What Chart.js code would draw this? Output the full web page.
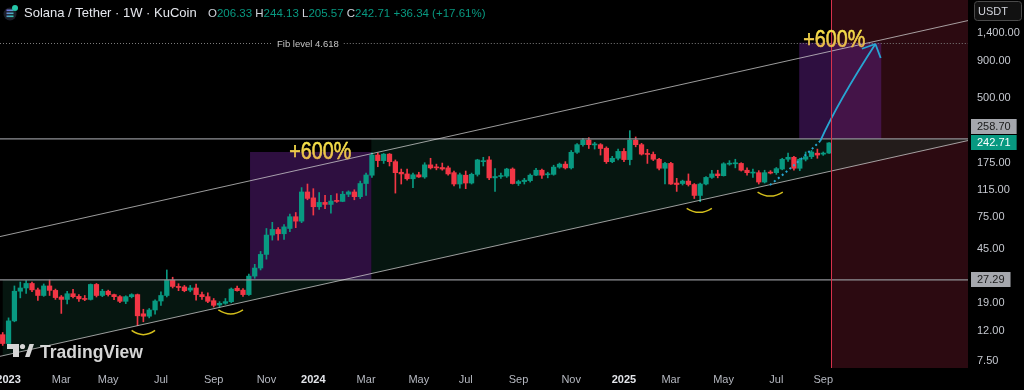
<!DOCTYPE html>
<html>
<head>
<meta charset="utf-8">
<script src="https://cdn.jsdelivr.net/npm/chart.js@4.4.1/dist/chart.umd.min.js"></script>
<style>
  html, body { margin: 0; padding: 0; background: #000; }
  #wrap { width: 1024px; height: 390px; }
</style>
</head>
<body>
<div id="wrap"><canvas id="chart" width="1024" height="390"></canvas></div>
<script>
// weekly SOL/USDT candles, week of 26 Dec 2022 .. week of 8 Sep 2025
const opens = [
  11.4, 9.9, 14.2, 22.8, 24.0, 25.8, 23.3, 21.3, 24.8, 23.1,
  20.8, 20.0, 21.9, 21.0, 20.3, 20.0, 25.4, 21.3, 22.8, 21.6,
  20.9, 19.4, 20.9, 21.6, 15.9, 15.3, 16.9, 19.5, 21.3, 27.2,
  24.6, 24.4, 23.2, 24.0, 21.6, 20.9, 19.6, 18.3, 18.8, 19.3,
  23.9, 23.2, 21.6, 29.0, 33.0, 41.0, 55.8, 61.0, 57.0, 62.0,
  74.8, 69.7, 111, 101, 87.7, 94, 91, 96.5, 95.5, 107,
  111, 103, 127, 145, 200, 183, 203, 180, 152, 148,
  137, 146, 141, 171, 165, 164, 163, 151, 126, 145,
  128, 147, 180, 185, 139, 142, 143, 160, 127, 131,
  133, 145, 157, 146, 147, 165, 173, 163, 209, 236,
  254, 235, 236, 223, 180, 190, 212, 186, 254, 236,
  205, 202, 187, 162, 175, 128, 127, 132, 125, 105,
  126, 140, 148, 144, 173, 174, 175, 157, 150, 151,
  130, 152, 151, 160, 187, 193, 162, 187, 195, 206,
  203, 206.33
];
const highs = [
  11.8, 14.9, 24.8, 26.4, 27.0, 26.4, 24.0, 25.6, 27.3, 23.6,
  21.3, 22.8, 23.5, 21.6, 21.3, 25.6, 25.8, 23.5, 23.2, 21.8,
  21.3, 21.2, 21.9, 21.8, 17.1, 17.3, 19.9, 22.6, 32.0, 28.5,
  25.7, 25.0, 25.0, 25.5, 22.5, 22.2, 20.3, 19.3, 20.3, 24.0,
  24.7, 23.8, 30.0, 35.0, 43.0, 62.0, 68.4, 63.0, 66.0, 78.0,
  80.0, 119, 126, 117, 110, 105, 105, 108, 112, 113,
  115, 132, 150, 207, 207, 205, 205, 185, 160, 160,
  150, 152, 177, 190, 173, 176, 168, 155, 150, 155,
  150, 187, 193, 195, 161, 150, 162, 163, 134, 138,
  148, 162, 160, 152, 170, 176, 180, 215, 240, 261,
  264, 245, 240, 228, 196, 220, 222, 295, 267, 241,
  219, 210, 190, 178, 178, 138, 134, 148, 127, 128,
  142, 157, 157, 177, 183, 187, 177, 163, 160, 156,
  157, 156, 164, 190, 206, 196, 190, 210, 215, 220,
  210, 244.13
];
const lows = [
  9.6, 9.7, 14.0, 20.5, 22.0, 22.6, 19.7, 21.0, 21.3, 20.0,
  16.0, 18.6, 20.5, 19.4, 19.6, 19.8, 20.8, 20.9, 21.1, 19.9,
  19.0, 18.7, 20.5, 13.2, 14.0, 14.9, 15.8, 18.2, 20.8, 24.0,
  23.0, 22.6, 22.6, 19.8, 20.0, 19.0, 17.7, 17.7, 18.5, 19.0,
  22.8, 21.0, 21.3, 28.0, 32.0, 38.0, 51.5, 51.5, 52.0, 59.0,
  62.8, 68.0, 98.0, 76.8, 84.0, 85.0, 79.0, 94.0, 95.0, 103,
  98, 100, 105, 140, 166, 175, 168, 109, 126, 134,
  119, 140, 138, 160, 158, 157, 145, 122, 118, 117,
  126, 143, 168, 135, 112, 138, 140, 126, 123, 126,
  130, 144, 138, 139, 145, 162, 160, 160, 205, 230,
  222, 220, 200, 175, 177, 185, 180, 171, 228, 200,
  175, 183, 158, 126, 125, 112, 124, 122, 100, 95,
  124, 138, 139, 143, 170, 163, 155, 145, 140, 126,
  128, 148, 147, 158, 181, 157, 156, 182, 189, 190,
  199, 205.57
];
const closes = [
  9.9, 14.2, 22.8, 24.0, 25.8, 23.3, 21.3, 24.8, 23.1, 20.6,
  20.0, 21.9, 20.9, 20.2, 20.0, 25.4, 21.3, 22.8, 21.6, 20.9,
  19.4, 20.9, 21.6, 15.4, 15.3, 16.9, 19.5, 21.3, 27.2, 24.6,
  24.2, 23.0, 24.0, 21.6, 20.9, 19.4, 18.2, 18.8, 19.3, 23.6,
  23.0, 21.6, 29.0, 33.0, 41.0, 55.8, 61.1, 57.0, 63.6, 74.8,
  69.7, 111, 100.2, 87.7, 94, 91, 96, 95.5, 107, 111,
  103, 127, 145.5, 200, 183, 203, 180, 151, 148, 137,
  146, 141, 171, 163, 163, 160, 148, 126, 146, 128,
  147, 185, 182, 139, 142, 144, 160, 127, 131, 134,
  145, 157, 145, 148, 165, 173, 163, 209, 236, 254,
  236, 238, 222, 180, 190, 212, 186, 254, 236, 203,
  202, 187, 162, 175, 126, 125, 132, 125, 105, 126,
  140, 148, 144, 174, 175, 176, 157, 151, 152, 130,
  151, 150, 161, 187, 193, 162, 187, 195, 210, 200,
  206.37, 242.71
];

// axis ticks (week index of first bar in the month)
const xTickIdx = [1, 10, 18, 27, 36, 45, 53, 62, 71, 79, 88, 97, 106, 114, 123, 132, 140];
const xTickLabels = ['2023', 'Mar', 'May', 'Jul', 'Sep', 'Nov', '2024', 'Mar', 'May', 'Jul', 'Sep', 'Nov', '2025', 'Mar', 'May', 'Jul', 'Sep'];
const yTicks = [7.5, 12, 19, 45, 75, 115, 175, 500, 900, 1400];

// drawings, in [week index, price]
const levels = [27.29, 258.70];
const fibLevel = 1199;
const upperChannel = [[-0.46, 54.5], [164.7, 1708]];
const lowerChannel = [[-0.46, 8.07], [164.7, 252]];
const greenZoneTop = [[0, 27.29], [62.9, 27.29], [62.9, 258.70], [164.7, 258.70]];
const boxes = [[42.2, 62.9, 27.29, 210], [135.9, 149.9, 258.70, 1199]];
const pctLabels = [[48.9, 187.7], [136.6, 1128]];
const redZoneStart = 141.35;
// smile arcs: [start idx, end idx, end price, bottom price]
const arcs = [[22.0, 26.0, 12.19, 11.4], [36.8, 41.0, 16.9, 15.85], [116.7, 121.0, 85.5, 80.2], [128.8, 133.1, 110.9, 104]];
const projDots = [[130.9, 124], [135.5, 177], [139.5, 251]];
const projArrow = [[139.5, 251], [143.4, 507], [148.9, 1175]];
const arrowArms = [[146.6, 1090], [149.8, 940]];

const UP = '#089981', DOWN = '#f23645';
const FONT = '"Liberation Sans", Arial, sans-serif';

const idx = opens.map((_, i) => i);
const colors = idx.map(i => closes[i] >= opens[i] ? UP : DOWN);
const wickData = idx.map(i => ({ x: i, y: [lows[i], highs[i]] }));
const bodyData = idx.map(i => ({ x: i, y: [Math.min(opens[i], closes[i]), Math.max(opens[i], closes[i])] }));
const pts = arr => arr.map(([x, y]) => ({ x, y }));

function quad(ctx, p0, p1, p2) {
  const cx = 2 * p1[0] - (p0[0] + p2[0]) / 2;
  const cy = 2 * p1[1] - (p0[1] + p2[1]) / 2;
  ctx.beginPath();
  ctx.moveTo(p0[0], p0[1]);
  ctx.quadraticCurveTo(cx, cy, p2[0], p2[1]);
  ctx.stroke();
}

const overlay = {
  id: 'overlay',
  beforeDatasetsDraw(chart) {
    const { ctx, chartArea: a, scales: { x, y } } = chart;
    const P = ([i, p]) => [x.getPixelForValue(i), y.getPixelForValue(p)];
    ctx.save();
    ctx.beginPath();
    ctx.rect(a.left, a.top, a.width, a.height);
    ctx.clip();

    const rx = x.getPixelForValue(redZoneStart);
    ctx.fillStyle = '#2c0a11';
    ctx.fillRect(rx, a.top, a.right - rx, a.height);

    const l0 = P(lowerChannel[0]), l1 = P(lowerChannel[1]);
    const lowAt = X => l0[1] + (l1[1] - l0[1]) * (X - l0[0]) / (l1[0] - l0[0]);
    ctx.beginPath();
    greenZoneTop.forEach((pt, k) => {
      const [X, Y] = P(pt);
      if (k) ctx.lineTo(X, Y); else ctx.moveTo(X, Y);
    });
    const xe = P(greenZoneTop[greenZoneTop.length - 1])[0];
    const xs = P(greenZoneTop[0])[0];
    ctx.lineTo(xe, lowAt(xe));
    ctx.lineTo(xs, lowAt(xs));
    ctx.closePath();
    ctx.fillStyle = 'rgba(18,64,48,0.34)';
    ctx.fill();

    ctx.fillStyle = 'rgba(92,30,128,0.5)';
    boxes.forEach(([i0, i1, p0, p1]) => {
      const [X0, Y0] = P([i0, p1]);
      const [X1, Y1] = P([i1, p0]);
      ctx.fillRect(X0, Y0, X1 - X0, Y1 - Y0);
    });
    ctx.restore();
  },
  afterDatasetsDraw(chart) {
    const { ctx, chartArea: a, scales: { x, y } } = chart;
    const P = ([i, p]) => [x.getPixelForValue(i), y.getPixelForValue(p)];
    ctx.save();
    ctx.beginPath();
    ctx.rect(a.left, a.top, a.width, a.height);
    ctx.clip();

    // fib level, dotted with a label gap
    const fy = Math.round(y.getPixelForValue(fibLevel)) + 0.5;
    ctx.font = '9.5px ' + FONT;
    const label = 'Fib level 4.618';
    const lw = ctx.measureText(label).width;
    const lx = 277;
    ctx.strokeStyle = '#7c7c7c';
    ctx.lineWidth = 1;
    ctx.setLineDash([1, 2]);
    ctx.beginPath();
    ctx.moveTo(a.left, fy); ctx.lineTo(lx - 4, fy);
    ctx.moveTo(lx + lw + 5, fy); ctx.lineTo(a.right, fy);
    ctx.stroke();
    ctx.setLineDash([]);
    ctx.fillStyle = '#c4c4c4';
    ctx.textBaseline = 'middle';
    ctx.fillText(label, lx, fy + 0.5);

    // yellow smiles under the lows
    ctx.strokeStyle = '#d4bf1c';
    ctx.lineWidth = 1.5;
    arcs.forEach(([i0, i1, pe, pb]) => {
      const [X0, Ye] = P([i0, pe]);
      const [X1] = P([i1, pe]);
      const Yb = y.getPixelForValue(pb);
      ctx.beginPath();
      ctx.moveTo(X0, Ye);
      ctx.quadraticCurveTo((X0 + X1) / 2, 2 * Yb - Ye, X1, Ye);
      ctx.stroke();
    });

    // projection path
    ctx.strokeStyle = '#27a6d3';
    ctx.lineWidth = 2;
    ctx.setLineDash([2, 3]);
    quad(ctx, P(projDots[0]), P(projDots[1]), P(projDots[2]));
    ctx.setLineDash([]);
    ctx.lineWidth = 1.8;
    quad(ctx, P(projArrow[0]), P(projArrow[1]), P(projArrow[2]));
    const tip = P(projArrow[2]);
    ctx.beginPath();
    arrowArms.forEach(arm => {
      const [X, Y] = P(arm);
      ctx.moveTo(tip[0], tip[1]);
      ctx.lineTo(X, Y);
    });
    ctx.stroke();

    // current time line
    const rx = Math.round(x.getPixelForValue(redZoneStart)) + 0.5;
    ctx.strokeStyle = '#d8324c';
    ctx.lineWidth = 1;
    ctx.beginPath();
    ctx.moveTo(rx, a.top); ctx.lineTo(rx, a.bottom);
    ctx.stroke();

    // +600% labels
    pctLabels.forEach(pt => {
      const [X, Y] = P(pt);
      ctx.save();
      ctx.font = '23px ' + FONT;
      const w = ctx.measureText('+600%').width;
      ctx.translate(X, Y);
      ctx.scale(62 / w, 1);
      const g = ctx.createLinearGradient(0, -17, 0, 0);
      g.addColorStop(0, '#f8e648');
      g.addColorStop(1, '#e8b84c');
      ctx.fillStyle = g;
      ctx.strokeStyle = g;
      ctx.lineWidth = 0.6;
      ctx.textBaseline = 'alphabetic';
      ctx.fillText('+600%', 0, 0);
      ctx.strokeText('+600%', 0, 0);
      ctx.restore();
    });
    ctx.restore();
  },
  afterDraw(chart) {
    const { ctx, chartArea: a, scales: { y } } = chart;
    ctx.save();

    // price axis labels with boxes
    ctx.font = '11px ' + FONT;
    ctx.textBaseline = 'middle';
    const tags = [
      { v: 258.70, bg: '#a5a7ad', fg: '#1a1a1a' },
      { v: 242.71, bg: UP, fg: '#ffffff' },
      { v: 27.29, bg: '#a5a7ad', fg: '#1a1a1a' }
    ].map(t => ({ ...t, c: y.getPixelForValue(t.v) }));
    const h = 15;
    // push overlapping tags apart (upwards)
    for (let k = tags.length - 2; k >= 0; k--) {
      if (tags[k + 1].c - tags[k].c < h + 1) tags[k].c = tags[k + 1].c - h - 1;
    }
    tags.forEach(t => {
      const txt = t.v.toFixed(2);
      const w = ctx.measureText(txt).width + 12;
      ctx.fillStyle = t.bg;
      ctx.fillRect(a.right + 3, Math.round(t.c - h / 2), w, h);
      ctx.fillStyle = t.fg;
      ctx.fillText(txt, a.right + 9, t.c + 0.5);
    });

    // currency box
    ctx.fillStyle = '#111111';
    ctx.strokeStyle = '#4a4a4a';
    ctx.lineWidth = 1;
    ctx.beginPath();
    ctx.roundRect(974.5, 1.5, 47, 19, 3);
    ctx.fill();
    ctx.stroke();
    ctx.fillStyle = '#d1d4dc';
    ctx.fillText('USDT', 978, 11.5);

    // header
    const ig = ctx.createLinearGradient(3, 8, 15, 20);
    ig.addColorStop(0, '#9945ff');
    ig.addColorStop(1, '#14f195');
    ctx.fillStyle = '#1c1f2a';
    ctx.beginPath(); ctx.arc(10, 14, 6.5, 0, Math.PI * 2); ctx.fill();
    ctx.fillStyle = ig;
    [10.5, 13.5, 16.5].forEach(yy => ctx.fillRect(6.5, yy - 1, 7, 1.6));
    ctx.fillStyle = '#26c6a8';
    ctx.beginPath(); ctx.arc(15, 8, 3, 0, Math.PI * 2); ctx.fill();

    ctx.textBaseline = 'alphabetic';
    ctx.font = '13px ' + FONT;
    ctx.fillStyle = '#e6e8ee';
    ctx.fillText('Solana / Tether \u00b7 1W \u00b7 KuCoin', 24, 17);
    ctx.font = '11.5px ' + FONT;
    let hx = 208;
    const n = opens.length - 1;
    const o = opens[n], hh = highs[n], l = lows[n], c = closes[n];
    const ch = c - closes[n - 1];
    const parts = [
      ['O', '#d1d4dc'], [o.toFixed(2) + ' ', UP],
      ['H', '#d1d4dc'], [hh.toFixed(2) + ' ', UP],
      ['L', '#d1d4dc'], [l.toFixed(2) + ' ', UP],
      ['C', '#d1d4dc'], [c.toFixed(2) + ' ', UP],
      ['+' + ch.toFixed(2) + ' (+' + (ch / closes[n - 1] * 100).toFixed(2) + '%)', UP]
    ];
    parts.forEach(([t, col]) => {
      ctx.fillStyle = col;
      ctx.fillText(t, hx, 17);
      hx += ctx.measureText(t).width;
    });

    // watermark
    ctx.fillStyle = '#d6d6d6';
    ctx.fillRect(7, 344, 12, 5);
    ctx.fillRect(13, 344, 6, 13);
    ctx.beginPath(); ctx.arc(22.5, 346.5, 2.6, 0, Math.PI * 2); ctx.fill();
    ctx.beginPath();
    ctx.moveTo(25, 357); ctx.lineTo(29.5, 344); ctx.lineTo(34, 344); ctx.lineTo(29.5, 357);
    ctx.closePath(); ctx.fill();
    ctx.font = 'bold 19px ' + FONT;
    const tw = ctx.measureText('TradingView').width;
    ctx.save();
    ctx.translate(40, 357.5);
    ctx.scale(103 / tw, 1);
    ctx.fillText('TradingView', 0, 0);
    ctx.restore();

    ctx.restore();
  }
};

new Chart(document.getElementById('chart'), {
  type: 'bar',
  data: {
    datasets: [
      { type: 'line', data: pts(upperChannel), borderColor: 'rgba(215,215,215,0.72)', borderWidth: 1, pointRadius: 0, order: 0 },
      { type: 'line', data: pts(lowerChannel), borderColor: 'rgba(215,215,215,0.72)', borderWidth: 1, pointRadius: 0, order: 0 },
      ...levels.map(v => ({
        type: 'line', data: [{ x: -0.46, y: v }, { x: 164.7, y: v }],
        borderColor: '#8f9196', borderWidth: 1.3, pointRadius: 0, order: 0
      })),
      { type: 'bar', data: bodyData, backgroundColor: colors, barThickness: 4.6, minBarLength: 1, grouped: false, order: 1 },
      { type: 'bar', data: wickData, backgroundColor: colors, barThickness: 1, minBarLength: 1, grouped: false, order: 2 }
    ]
  },
  options: {
    responsive: false,
    animation: false,
    events: [],
    layout: { padding: 0 },
    plugins: { legend: { display: false }, tooltip: { enabled: false } },
    scales: {
      x: {
        type: 'linear',
        min: -0.46,
        max: 164.7,
        offset: false,
        grid: { display: false, drawTicks: false },
        border: { display: false },
        afterBuildTicks: s => { s.ticks = xTickIdx.map(v => ({ value: v })); },
        afterFit: s => { s.height = 22; s.paddingLeft = 0; s.paddingRight = 0; },
        ticks: {
          autoSkip: false,
          maxRotation: 0,
          padding: 5,
          callback: v => xTickLabels[xTickIdx.indexOf(v)],
          color: c => /^\d{4}$/.test(xTickLabels[c.index]) ? '#e3e5ea' : '#b5b8c0',
          font: c => ({ family: FONT, size: 11, weight: /^\d{4}$/.test(xTickLabels[c.index]) ? 'bold' : 'normal' })
        }
      },
      y: {
        type: 'logarithmic',
        position: 'right',
        min: 6.70,
        max: 2371,
        grid: { display: false, drawTicks: false },
        border: { display: false },
        afterBuildTicks: s => { s.ticks = yTicks.map(v => ({ value: v })); },
        afterFit: s => { s.width = 56; s.paddingTop = 0; s.paddingBottom = 0; },
        ticks: {
          autoSkip: false,
          padding: 9,
          color: '#c6c9d0',
          font: { family: FONT, size: 11 },
          callback: v => Number(v).toLocaleString('en-US', { minimumFractionDigits: 2, maximumFractionDigits: 2 })
        }
      }
    }
  },
  plugins: [overlay]
});
</script>
</body>
</html>
